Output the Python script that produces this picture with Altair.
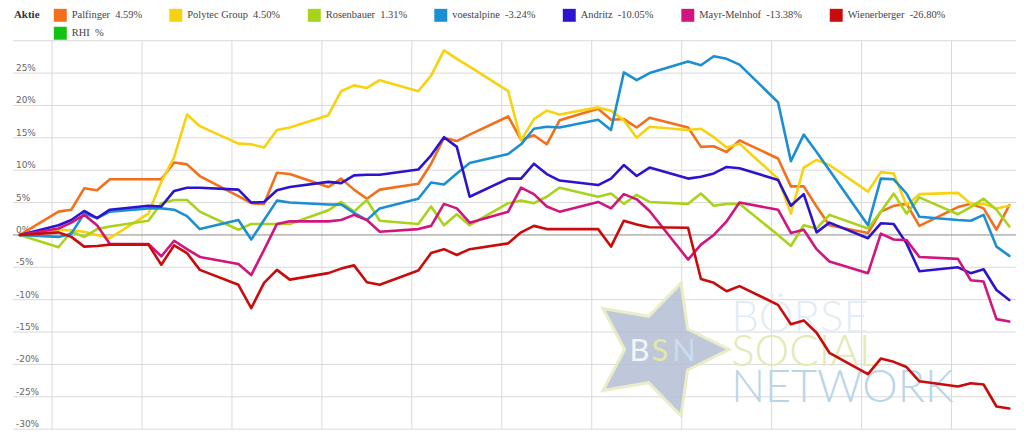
import altair as alt
import pandas as pd

# trading days (calendar-day index from the first Friday)
days = [0, 3, 4, 5, 6, 7, 10, 11, 12, 13, 14, 17, 18, 19, 20, 21, 24, 25, 26, 27, 28,
        31, 32, 33, 34, 35, 38, 39, 40, 41, 42, 45, 46, 47, 48, 49, 52, 53, 54, 55, 56,
        59, 60, 61, 62, 63, 66, 67, 68, 69, 70, 73, 74, 75, 76, 77]

palfinger = [0, 3.6, 3.9, 7.2, 6.9, 8.6, 8.6, 8.6, 11.2, 10.9, 9.1, 6.0, 4.9, 4.8, 9.6, 9.4,
             7.4, 8.7, 7.0, 5.6, 7.0, 7.9, 11.0, 15.0, 14.5, 15.5, 18.3, 14.7, 15.4, 14.0, 17.7,
             19.5, 17.8, 17.9, 16.6, 18.1, 16.6, 13.6, 13.7, 12.8, 14.6, 11.8, 7.5, 7.5, 4.4, 1.5,
             0.3, 3.6, 4.5, 4.8, 1.4, 4.3, 4.8, 4.1, 0.8, 4.59]
polytec = [0, 0.8, 0.7, 0.5, 0.0, -0.5, 3.3, 8.2, 12.0, 18.6, 16.8, 14.1, 14.0, 13.5, 16.2, 16.6,
           18.5, 22.2, 23.1, 22.7, 23.9, 22.2, 24.6, 28.5, 27.2, 26.0, 22.2, 14.6, 17.9, 19.2, 18.6,
           19.7, 19.2, 17.7, 15.0, 16.7, 16.2, 16.4, 15.1, 13.5, 14.1, 8.7, 3.3, 10.4, 11.6, 10.8,
           6.7, 9.7, 9.5, 4.6, 6.3, 6.5, 4.8, 4.8, 4.1, 4.50]
rosenbauer = [0, -1.9, 0.5, -0.3, 0.9, 1.3, 2.2, 4.9, 5.4, 5.4, 3.6, 0.8, 1.7, 1.7, 1.7, 1.7,
              3.8, 5.1, 3.6, 5.4, 2.2, 1.7, 4.4, 1.5, 3.2, 1.5, 4.9, 5.3, 4.9, 5.9, 7.3,
              5.9, 6.4, 4.8, 6.2, 5.1, 4.8, 6.4, 4.5, 4.8, 4.8, 0.0, -1.7, 1.5, 1.0, 3.1,
              1.0, 3.6, 6.4, 3.3, 5.8, 3.2, 4.3, 5.6, 3.9, 1.31]
voestalpine = [0, -0.3, 0.2, 3.3, 2.6, 3.6, 4.1, 4.1, 3.9, 2.9, 0.9, 2.3, -0.7, 2.3, 5.3, 5.0,
               4.7, 4.7, 3.4, 2.3, 4.1, 5.6, 8.1, 7.8, 9.5, 11.1, 12.5, 14.0, 16.4, 16.7, 16.6,
               17.8, 16.2, 25.1, 23.9, 25.0, 26.8, 26.2, 27.6, 27.2, 26.3, 20.5, 11.4, 15.5, 12.8, 10.0,
               1.5, 8.7, 8.6, 6.4, 2.8, 2.3, 2.2, 3.1, -1.8, -3.24]
andritz = [0, 1.5, 2.3, 3.7, 2.6, 3.9, 4.5, 4.4, 6.8, 7.3, 7.3, 7.0, 5.0, 5.1, 6.9, 7.4,
           8.2, 8.0, 9.2, 9.3, 9.3, 10.1, 12.3, 15.1, 13.6, 5.9, 8.7, 8.7, 11.0, 9.4, 8.4,
           7.7, 8.7, 10.8, 9.1, 10.4, 8.7, 9.0, 9.5, 10.5, 10.3, 8.5, 4.5, 6.3, 0.4, 1.9,
           -0.5, 1.8, 1.7, -1.3, -5.6, -5.0, -5.9, -5.3, -8.5, -10.05]
mayr = [0, 1.0, 1.9, 3.1, 1.5, -1.4, -1.4, -3.3, -0.9, -2.2, -3.4, -4.5, -6.2, -2.3, 1.7, 2.1,
        2.1, 2.3, 3.1, 2.3, 0.5, 0.9, 1.4, 4.8, 4.1, 1.9, 3.6, 7.3, 6.3, 4.4, 3.6,
        5.1, 4.1, 6.3, 5.5, 3.7, -3.8, -1.5, 0.0, 2.1, 5.0, 3.9, 0.3, 0.8, -2.2, -4.1,
        -5.9, 0.2, -0.7, -0.8, -3.4, -3.7, -7.0, -7.2, -13.0, -13.38]
wienerberger = [0, 0.4, -0.3, -1.8, -1.7, -1.5, -1.5, -4.6, -1.6, -2.8, -5.4, -7.7, -11.3, -7.4, -5.4, -6.9,
                -5.9, -5.2, -4.7, -7.3, -7.7, -5.5, -2.8, -2.2, -3.1, -2.2, -1.3, 0.4, 1.4, 0.9, 0.9,
                0.9, -1.8, 2.2, 1.6, 1.2, 1.1, -6.8, -7.4, -8.7, -7.9, -10.8, -13.8, -13.2, -15.1, -18.2,
                -21.5, -19.1, -19.6, -20.4, -22.6, -23.4, -22.9, -23.1, -26.5, -26.80]

names = ["Palfinger", "Polytec Group", "Rosenbauer", "voestalpine", "Andritz",
         "Mayr-Melnhof", "Wienerberger", "RHI"]
perf = ["4.59%", "4.50%", "1.31%", "-3.24%", "-10.05%", "-13.38%", "-26.80%", "%"]
colors = ["#f46f1b", "#f8d10f", "#a8d31a", "#1b8fd2", "#2b13cf", "#d2147d", "#c90b0b", "#12c412"]
series = [palfinger, polytec, rosenbauer, voestalpine, andritz, mayr, wienerberger]

y_ticks = [-30, -25, -20, -15, -10, -5, 5, 10, 15, 20, 25, 30]
y_label_vals = [-30, -25, -20, -15, -10, -5, 0, 5, 10, 15, 20, 25]
y_label_txt = [f"{v}%" for v in y_label_vals]
week_grid = [2.5, 9.5, 16.5, 23.5, 30.5, 37.5, 44.5, 51.5, 58.5, 65.5, 72.5]

labels = [f"{n}\u00a0 {p}" for n, p in zip(names, perf)]

rows = []
for lab, vals in zip(labels, series):
    for d, v in zip(days, vals):
        rows.append({"label": lab, "day": d, "value": v})
df = pd.DataFrame(rows)

xscale = alt.Scale(domain=[-0.5426, 77.52], nice=False, zero=False)
yscale = alt.Scale(domain=[-30, 30], nice=False, zero=False)
cscale = alt.Scale(domain=labels, range=colors)

one = pd.DataFrame({"a": [0]})

# grid
vgrid = alt.Chart(pd.DataFrame({"d": week_grid})).mark_rule(color="#dadada", strokeWidth=1).encode(
    x=alt.X("d:Q", scale=xscale, axis=None))
hgrid = alt.Chart(pd.DataFrame({"v": y_ticks})).mark_rule(color="#dadada", strokeWidth=1).encode(
    y=alt.Y("v:Q", scale=yscale, axis=None))

STAR = ("M1,0 L0.405,0.294 L0.309,0.951 L-0.155,0.476 L-0.809,0.588 L-0.5,0 "
        "L-0.809,-0.588 L-0.155,-0.476 L0.309,-0.951 L0.405,-0.294 Z")

star = alt.Chart(one).mark_point(
    shape=STAR, filled=True, size=19600, fill="#b5bfd4", stroke="#e6ebbf",
    strokeWidth=3, opacity=0.85
).encode(x=alt.value(649), y=alt.value(310))

def wm_text(txt, x, y, color, size, weight=300):
    return alt.Chart(one).mark_text(
        text=txt, align="left", baseline="alphabetic", font="Lato",
        fontSize=size, fontWeight=weight, color=color
    ).encode(x=alt.value(x), y=alt.value(y))

bsn = [
    wm_text("B", 619, 322, "#f2f5f8", 31, 400),
    wm_text("S", 641, 322, "#e2e7a6", 31, 400),
    wm_text("N", 662, 322, "#c8ddee", 31, 400),
]
words = [
    wm_text("BÖRSE", 721, 292, "#e2ecf4", 44),
    wm_text("SOCIAL", 721, 327, "#e4e9b4", 44),
    wm_text("NETWORK", 721, 363, "#b9d5e8", 45),
]

ylabels = alt.Chart(pd.DataFrame({"v": y_label_vals, "t": y_label_txt})).mark_text(
    align="left", baseline="alphabetic", dy=-2, font="DejaVu Sans", fontSize=9, color="#666666"
).encode(x=alt.value(3), y=alt.Y("v:Q", scale=yscale, axis=None), text="t:N")

zero = alt.Chart(pd.DataFrame({"v": [0]})).mark_rule(color="#8a8a8a", strokeWidth=1).encode(
    y=alt.Y("v:Q", scale=yscale, axis=None))

leg = alt.Legend(
    title="Aktie", orient="none", legendX=1, legendY=-32, direction="horizontal",
    columns=7, titleOrient="left", titleAnchor="start", titleBaseline="top",
    titleFont="Liberation Serif", titleFontSize=11,
    titleFontWeight="bold", titleColor="#333333", titlePadding=14,
    labelFont="Liberation Serif", labelFontSize=10.5, labelColor="#444444",
    symbolType="square", symbolSize=169, symbolStrokeWidth=0,
    labelOffset=5, columnPadding=27, rowPadding=5, padding=0, labelLimit=300)

lines = alt.Chart(df).mark_line(strokeWidth=2.6, strokeJoin="round", strokeCap="round").encode(
    x=alt.X("day:Q", scale=xscale, axis=None),
    y=alt.Y("value:Q", scale=yscale, axis=None),
    color=alt.Color("label:N", scale=cscale, legend=leg),
)

leg_df = pd.DataFrame({"label": labels, "day": [-50] * len(labels), "value": [0] * len(labels)})
legend_layer = alt.Chart(leg_df).mark_square(clip=True, opacity=1, size=169).encode(
    x=alt.X("day:Q", scale=xscale, axis=None),
    y=alt.Y("value:Q", scale=yscale, axis=None),
    color=alt.Color("label:N", scale=cscale, legend=leg),
)

chart = alt.layer(vgrid, hgrid, star, *bsn, *words, ylabels, zero, legend_layer, lines).properties(
    width=1007, height=390,
    padding={"left": 5, "top": 32, "right": 0, "bottom": 2},
    autosize="none",
).configure_view(stroke=None)

chart.save("out.html", embed_options={"renderer": "svg", "actions": False})
